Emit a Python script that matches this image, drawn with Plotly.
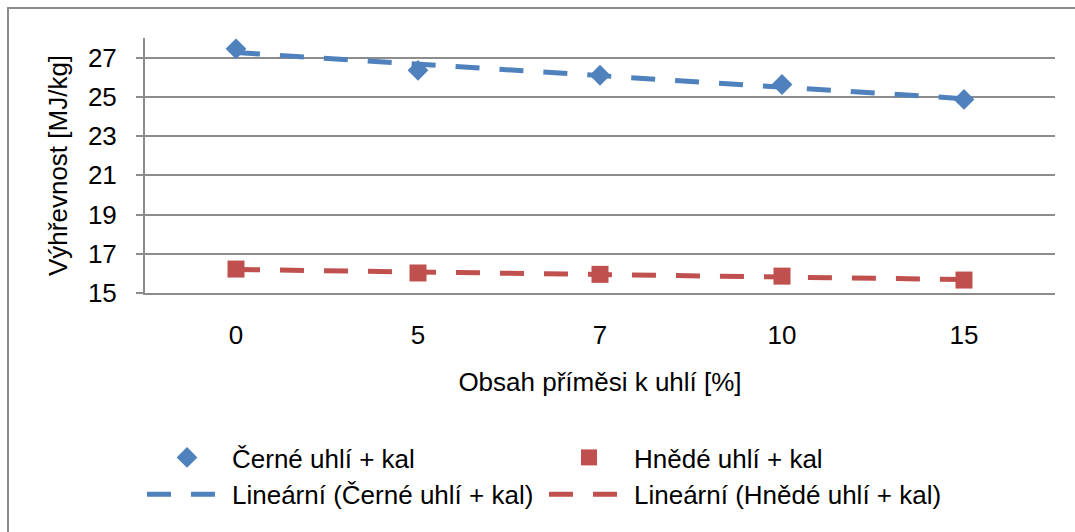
import numpy as np
import plotly.graph_objects as go

categories = ["0", "5", "7", "10", "15"]
black_coal = [27.45, 26.35, 26.1, 25.63, 24.87]
brown_coal = [16.22, 16.02, 15.95, 15.86, 15.66]
y_ticks = [15, 17, 19, 21, 23, 25, 27]

BLUE = "#4F81BD"
RED = "#C0504D"
GRID = "#8C8C8C"
FONT = "Liberation Sans, Arial, sans-serif"
FS = 26

idx = np.arange(1, len(categories) + 1)
b_fit = np.polyval(np.polyfit(idx, black_coal, 1), idx)
r_fit = np.polyval(np.polyfit(idx, brown_coal, 1), idx)

fig = go.Figure()
fig.add_trace(go.Scatter(x=categories, y=black_coal, mode="markers", name="Černé uhlí + kal",
                         marker=dict(symbol="diamond", size=16, color=BLUE)))
fig.add_trace(go.Scatter(x=categories, y=brown_coal, mode="markers", name="Hnědé uhlí + kal",
                         marker=dict(symbol="square", size=17, color=RED)))
fig.add_trace(go.Scatter(x=categories, y=b_fit, mode="lines", name="Lineární (Černé uhlí + kal)",
                         line=dict(color=BLUE, width=5, dash="24px,20px")))
fig.add_trace(go.Scatter(x=categories, y=r_fit, mode="lines", name="Lineární (Hnědé uhlí + kal)",
                         line=dict(color=RED, width=5, dash="24px,20px")))

L, R, T, B = 145, 20, 38, 239
W, H = 1075, 532
pw, ph = W - L - R, H - T - B

def px_x(x):
    return (x - L) / pw

def px_y(y):
    return (H - B - y) / ph

fig.update_layout(
    width=W, height=H,
    margin=dict(l=L, r=R, t=T, b=B),
    paper_bgcolor="white", plot_bgcolor="white",
    font=dict(family=FONT, size=FS, color="black"),
    showlegend=True,
    legend=dict(orientation="h", x=px_x(142), y=px_y(434), xanchor="left", yanchor="top",
                entrywidth=307, entrywidthmode="pixels", itemwidth=80,
                font=dict(family=FONT, size=FS, color="black"),
                bgcolor="rgba(0,0,0,0)"),
    xaxis=dict(type="category", range=[-0.5, 4.5], showgrid=False, showline=True,
               linecolor=GRID, linewidth=2, ticks="", ticklabelstandoff=18,
               title=dict(text="Obsah příměsi k uhlí [%]", standoff=24,
                          font=dict(family=FONT, size=FS)),
               tickfont=dict(family=FONT, size=FS)),
    yaxis=dict(range=[15, 28], tickvals=y_ticks, showgrid=True, gridcolor=GRID, gridwidth=2,
               showline=True, linecolor=GRID, linewidth=2, ticks="outside", ticklen=7,
               tickcolor=GRID, tickwidth=2, zeroline=False, ticklabelstandoff=14,
               tickfont=dict(family=FONT, size=FS)),
    annotations=[dict(text="Výhřevnost [MJ/kg]", xref="paper", yref="paper",
                      x=px_x(58), y=px_y(166), xanchor="center", yanchor="middle",
                      textangle=-90, showarrow=False, font=dict(family=FONT, size=FS))],
    shapes=[dict(type="rect", xref="paper", yref="paper",
                 x0=px_x(8), x1=px_x(1200), y0=px_y(800), y1=px_y(8),
                 line=dict(color=GRID, width=2), fillcolor="rgba(0,0,0,0)", layer="below")],
)

fig.write_html("out.html")
